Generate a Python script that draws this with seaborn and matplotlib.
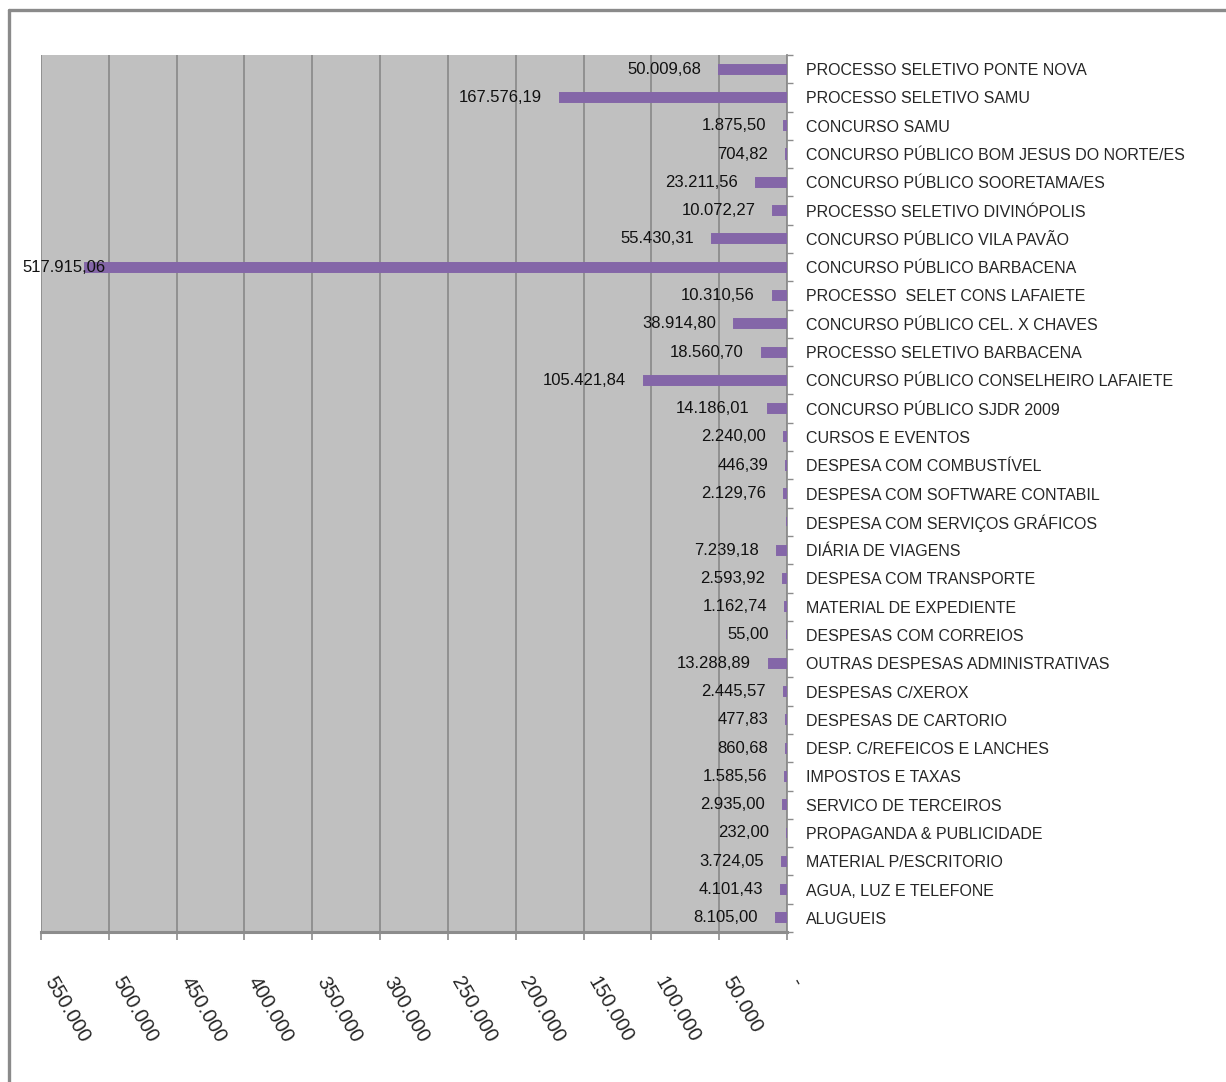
import matplotlib
matplotlib.use("Agg")
import matplotlib.pyplot as plt
from matplotlib.lines import Line2D
import seaborn as sns
import pandas as pd

categories = [
    "PROCESSO SELETIVO PONTE NOVA",
    "PROCESSO SELETIVO SAMU",
    "CONCURSO SAMU",
    "CONCURSO PÚBLICO BOM JESUS DO NORTE/ES",
    "CONCURSO PÚBLICO SOORETAMA/ES",
    "PROCESSO SELETIVO DIVINÓPOLIS",
    "CONCURSO PÚBLICO VILA PAVÃO",
    "CONCURSO PÚBLICO BARBACENA",
    "PROCESSO  SELET CONS LAFAIETE",
    "CONCURSO PÚBLICO CEL. X CHAVES",
    "PROCESSO SELETIVO BARBACENA",
    "CONCURSO PÚBLICO CONSELHEIRO LAFAIETE",
    "CONCURSO PÚBLICO SJDR 2009",
    "CURSOS E EVENTOS",
    "DESPESA COM COMBUSTÍVEL",
    "DESPESA COM SOFTWARE CONTABIL",
    "DESPESA COM SERVIÇOS GRÁFICOS",
    "DIÁRIA DE VIAGENS",
    "DESPESA COM TRANSPORTE",
    "MATERIAL DE EXPEDIENTE",
    "DESPESAS COM CORREIOS",
    "OUTRAS DESPESAS ADMINISTRATIVAS",
    "DESPESAS C/XEROX",
    "DESPESAS DE CARTORIO",
    "DESP. C/REFEICOS E LANCHES",
    "IMPOSTOS E TAXAS",
    "SERVICO DE TERCEIROS",
    "PROPAGANDA & PUBLICIDADE",
    "MATERIAL P/ESCRITORIO",
    "AGUA, LUZ E TELEFONE",
    "ALUGUEIS",
]

values = [
    50009.68, 167576.19, 1875.50, 704.82, 23211.56, 10072.27, 55430.31,
    517915.06, 10310.56, 38914.80, 18560.70, 105421.84, 14186.01, 2240.00,
    446.39, 2129.76, 300.00, 7239.18, 2593.92, 1162.74, 55.00, 13288.89,
    2445.57, 477.83, 860.68, 1585.56, 2935.00, 232.00, 3724.05, 4101.43,
    8105.00,
]

value_labels = [
    "50.009,68", "167.576,19", "1.875,50", "704,82", "23.211,56", "10.072,27",
    "55.430,31", "517.915,06", "10.310,56", "38.914,80", "18.560,70",
    "105.421,84", "14.186,01", "2.240,00", "446,39", "2.129,76", "",
    "7.239,18", "2.593,92", "1.162,74", "55,00", "13.288,89", "2.445,57",
    "477,83", "860,68", "1.585,56", "2.935,00", "232,00", "3.724,05",
    "4.101,43", "8.105,00",
]

xtick_values = [550000, 500000, 450000, 400000, 350000, 300000, 250000,
                200000, 150000, 100000, 50000, 0]
xtick_labels = ["550.000", "500.000", "450.000", "400.000", "350.000",
                "300.000", "250.000", "200.000", "150.000", "100.000",
                "50.000", "-"]

sns.set_theme(style="white")
plt.rcParams["font.family"] = ["Liberation Sans", "DejaVu Sans"]

W, H = 1226, 1082
fig = plt.figure(figsize=(W / 100, H / 100), dpi=100)
fig.patch.set_facecolor("white")
ax = fig.add_axes([41 / W, (H - 932) / H, (787 - 41) / W, (932 - 55) / H])

df = pd.DataFrame({"categoria": categories, "valor": values})
purple = "#8466A8"
sns.barplot(data=df, x="valor", y="categoria", orient="h", color=purple,
            width=0.32, edgecolor=purple, linewidth=1.4, saturation=1,
            ax=ax)
for p in ax.patches:
    p.set_zorder(3)

ax.set_facecolor("#C0C0C0")
ax.set_xlim(550000, 0)
ax.set_ylim(len(categories) - 0.5, -0.5)
ax.set_xlabel("")
ax.set_ylabel("")

# gridlines and x ticks
ax.set_xticks(xtick_values)
ax.set_xticklabels(xtick_labels, rotation=-60, ha="left", va="top",
                   fontsize=14.5)
ax.grid(axis="x", color="#8C8C8C", linewidth=1.3)
ax.grid(axis="y", visible=False)
ax.set_axisbelow(True)
ax.tick_params(axis="x", direction="out", length=6, width=1.2,
               color="#8C8C8C", pad=24, bottom=True)

# category labels on the right
ax.yaxis.tick_right()
ax.tick_params(axis="y", which="major", length=0, pad=14, labelsize=11.5,
               right=True, left=False)
ax.set_yticks([i + 0.5 for i in range(-1, len(categories))], minor=True)
ax.tick_params(axis="y", which="minor", direction="out", length=4.5,
               width=1.0, color="#8C8C8C", right=True, left=False)

for side in ["top", "left"]:
    ax.spines[side].set_visible(False)
ax.spines["right"].set_color("#8C8C8C")
ax.spines["right"].set_linewidth(1.3)
ax.spines["bottom"].set_color("#8C8C8C")
ax.spines["bottom"].set_linewidth(2.2)

# value labels
texts = ax.bar_label(ax.containers[0], labels=value_labels, padding=13,
                     fontsize=12, color="#111111", clip_on=False)

# keep labels inside the chart area (as the spreadsheet does)
fig.canvas.draw()
renderer = fig.canvas.get_renderer()
for t in texts:
    bb = t.get_window_extent(renderer)
    if bb.x0 < 22:
        dx_px = 22 - bb.x0
        ox, oy = t.xyann
        t.xyann = (ox + dx_px * 72 / fig.dpi, oy)

# outer frame (top and left edges visible)
fig.add_artist(Line2D([9 / W, 1.0], [1 - 10 / H, 1 - 10 / H],
                      transform=fig.transFigure, color="#8A8A8A", lw=2.4))
fig.add_artist(Line2D([9 / W, 9 / W], [0, 1 - 10 / H],
                      transform=fig.transFigure, color="#8A8A8A", lw=2.4))

fig.savefig("out.png", dpi=100)
